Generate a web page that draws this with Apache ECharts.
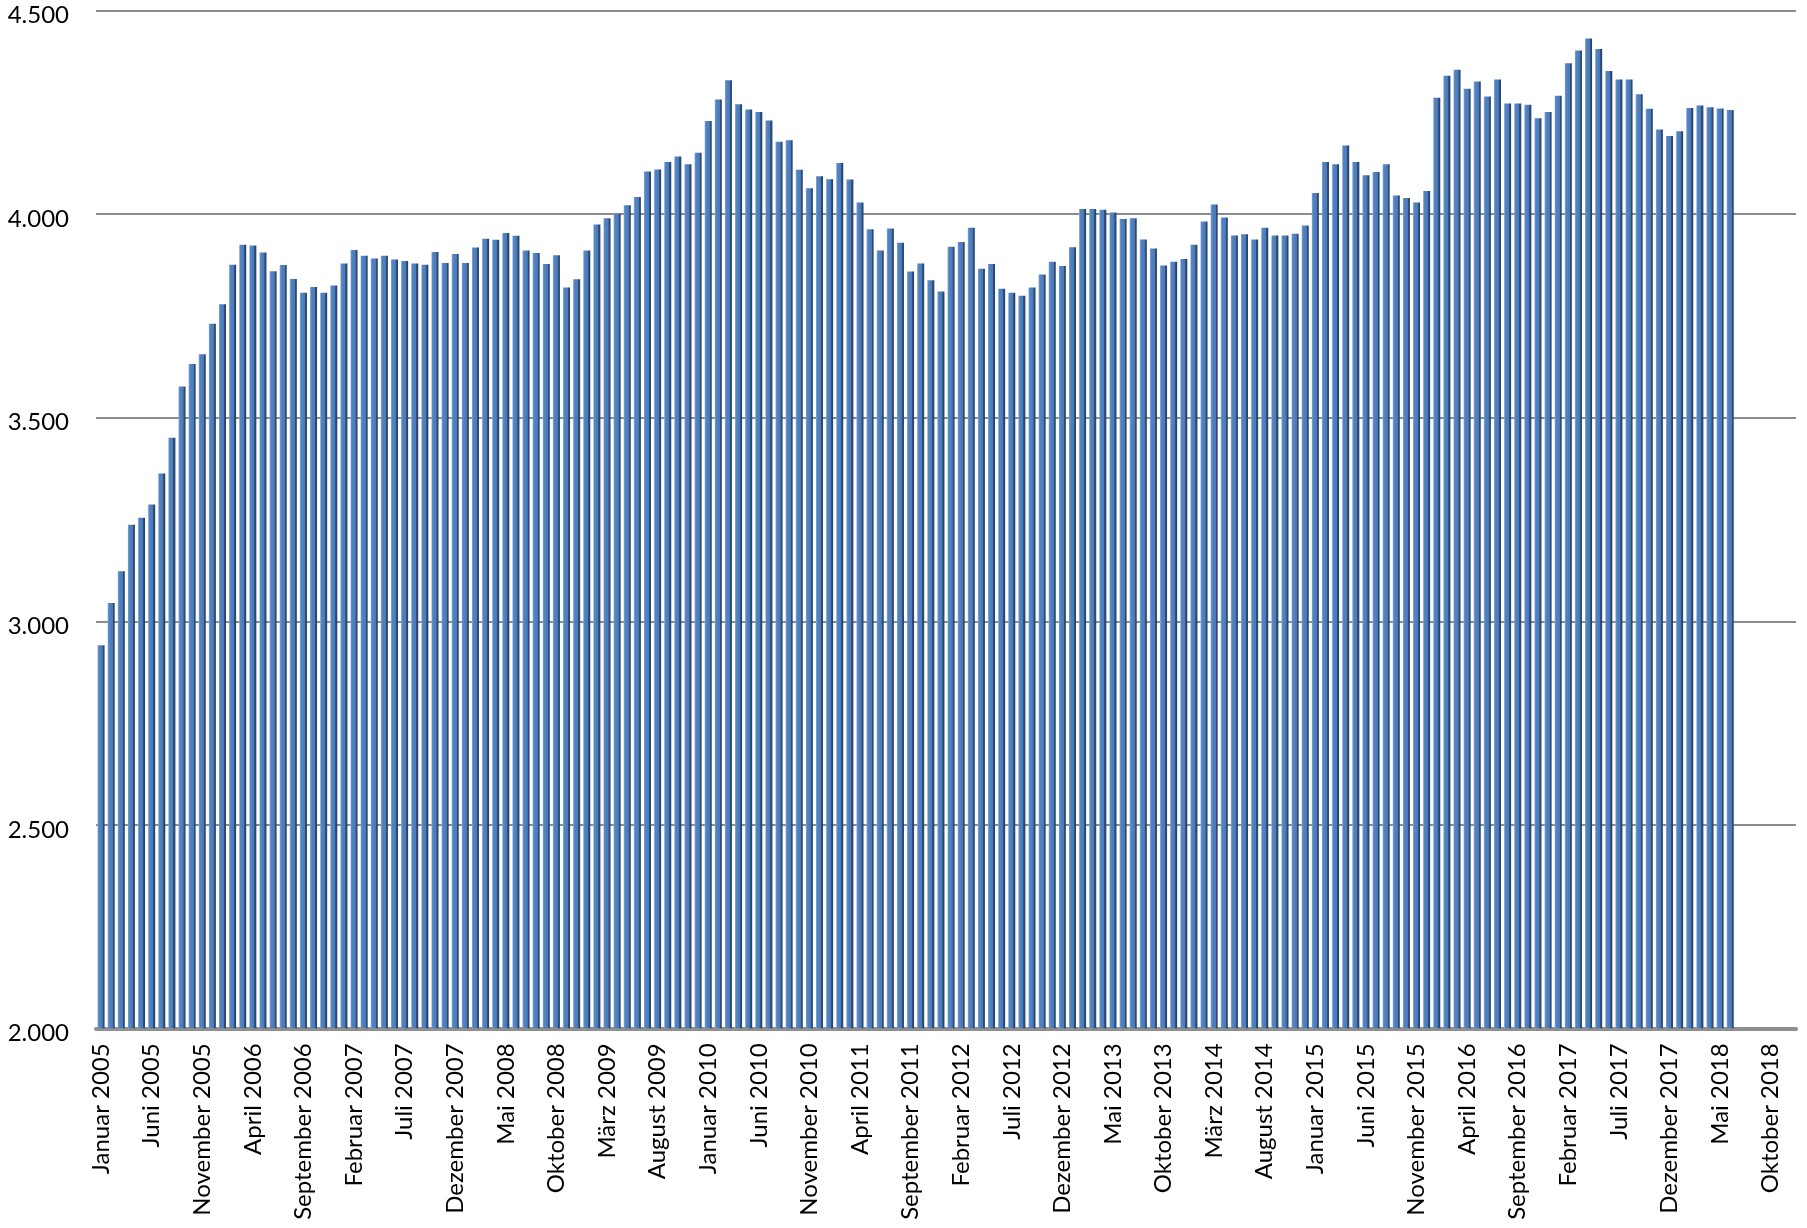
<!DOCTYPE html>
<html>
<head>
<meta charset="utf-8">
<title>Monatswerte 2005–2018</title>
<script src="https://cdn.jsdelivr.net/npm/echarts@6/dist/echarts.min.js"></script>
<style>
  html, body { margin: 0; padding: 0; background: #fff; }
  #chart { width: 1807px; height: 1228px; }
</style>
</head>
<body>
<div id="chart"></div>
<script>
// axis categories: every month 2005 - 2018
const months = ["Januar", "Februar", "März", "April", "Mai", "Juni", "Juli",
  "August", "September", "Oktober", "November", "Dezember"];
const years = [2005, 2006, 2007, 2008, 2009, 2010, 2011, 2012, 2013, 2014, 2015, 2016, 2017, 2018];

// monthly values
const v2005 = [2941, 3045, 3123, 3237, 3254, 3287, 3363, 3451, 3577, 3632, 3656, 3731];
const v2006 = [3779, 3876, 3925, 3923, 3906, 3860, 3875, 3841, 3807, 3821, 3807, 3825];
const v2007 = [3879, 3912, 3898, 3891, 3898, 3889, 3885, 3879, 3876, 3907, 3880, 3902];
const v2008 = [3880, 3918, 3940, 3937, 3954, 3947, 3911, 3905, 3878, 3899, 3820, 3840];
const v2009 = [3911, 3975, 3990, 4001, 4022, 4042, 4105, 4110, 4128, 4142, 4123, 4151];
const v2010 = [4229, 4282, 4329, 4270, 4257, 4251, 4230, 4178, 4182, 4109, 4064, 4093];
const v2011 = [4086, 4126, 4085, 4029, 3963, 3911, 3965, 3930, 3859, 3879, 3838, 3810];
const v2012 = [3920, 3932, 3967, 3866, 3878, 3817, 3807, 3800, 3820, 3852, 3883, 3873];
const v2013 = [3919, 4013, 4013, 4011, 4004, 3988, 3990, 3938, 3916, 3874, 3883, 3890];
const v2014 = [3925, 3982, 4024, 3992, 3948, 3951, 3938, 3967, 3948, 3948, 3952, 3972];
const v2015 = [4052, 4128, 4123, 4169, 4128, 4096, 4104, 4123, 4046, 4040, 4029, 4057];
const v2016 = [4286, 4340, 4355, 4308, 4326, 4289, 4331, 4272, 4272, 4269, 4236, 4251];
const v2017 = [4291, 4371, 4402, 4432, 4406, 4352, 4331, 4331, 4295, 4259, 4208, 4192];
const v2018 = [4204, 4261, 4267, 4263, 4260, 4256];

// y axis ticks
const yMin = 2000;
const yMax = 4500;
const yStep = 500;

const categories = [];
years.forEach(function (y) {
  months.forEach(function (m) { categories.push(m + " " + y); });
});
const values = [].concat(v2005, v2006, v2007, v2008, v2009, v2010, v2011,
  v2012, v2013, v2014, v2015, v2016, v2017, v2018);

const chart = echarts.init(document.getElementById("chart"), null, { renderer: "canvas" });

// fake 3d column: light left edge, blue front, dark side face
const barColor = new echarts.graphic.LinearGradient(0, 0, 1, 0, [
  { offset: 0, color: "#86a9da" },
  { offset: 0.18, color: "#5484c2" },
  { offset: 0.7, color: "#4a79b6" },
  { offset: 0.73, color: "#30527f" },
  { offset: 1, color: "#253f63" }
]);

chart.setOption({
  backgroundColor: "#fff",
  animation: false,
  textStyle: { fontFamily: "Lato, 'Open Sans', sans-serif" },
  grid: {
    left: 96, right: 11, top: 10.7, bottom: 199.7,
    containLabel: false, outerBoundsMode: "none"
  },
  xAxis: {
    type: "category",
    data: categories,
    boundaryGap: true,
    axisLine: { show: true, lineStyle: { color: "#8f8f8f", width: 4 } },
    axisTick: { show: false },
    axisLabel: {
      interval: 4,
      rotate: 90,
      margin: 15,
      color: "#000",
      fontSize: 24,
      fontFamily: "Lato"
    },
    splitLine: { show: false }
  },
  yAxis: {
    type: "value",
    min: yMin,
    max: yMax,
    interval: yStep,
    axisLine: { show: false },
    axisTick: { show: false },
    axisLabel: {
      margin: 27,
      color: "#000",
      fontSize: 24,
      fontFamily: "Lato",
      verticalAlign: "top",
      lineHeight: 10,
      formatter: function (v) {
        return String(v).replace(/\B(?=(\d{3})+(?!\d))/g, ".");
      }
    },
    splitLine: { show: true, lineStyle: { color: "#8c8c8c", width: 2 } }
  },
  series: [
    {
      type: "bar",
      data: values,
      barWidth: 7,
      itemStyle: { color: barColor }
    }
  ]
});
</script>
</body>
</html>
